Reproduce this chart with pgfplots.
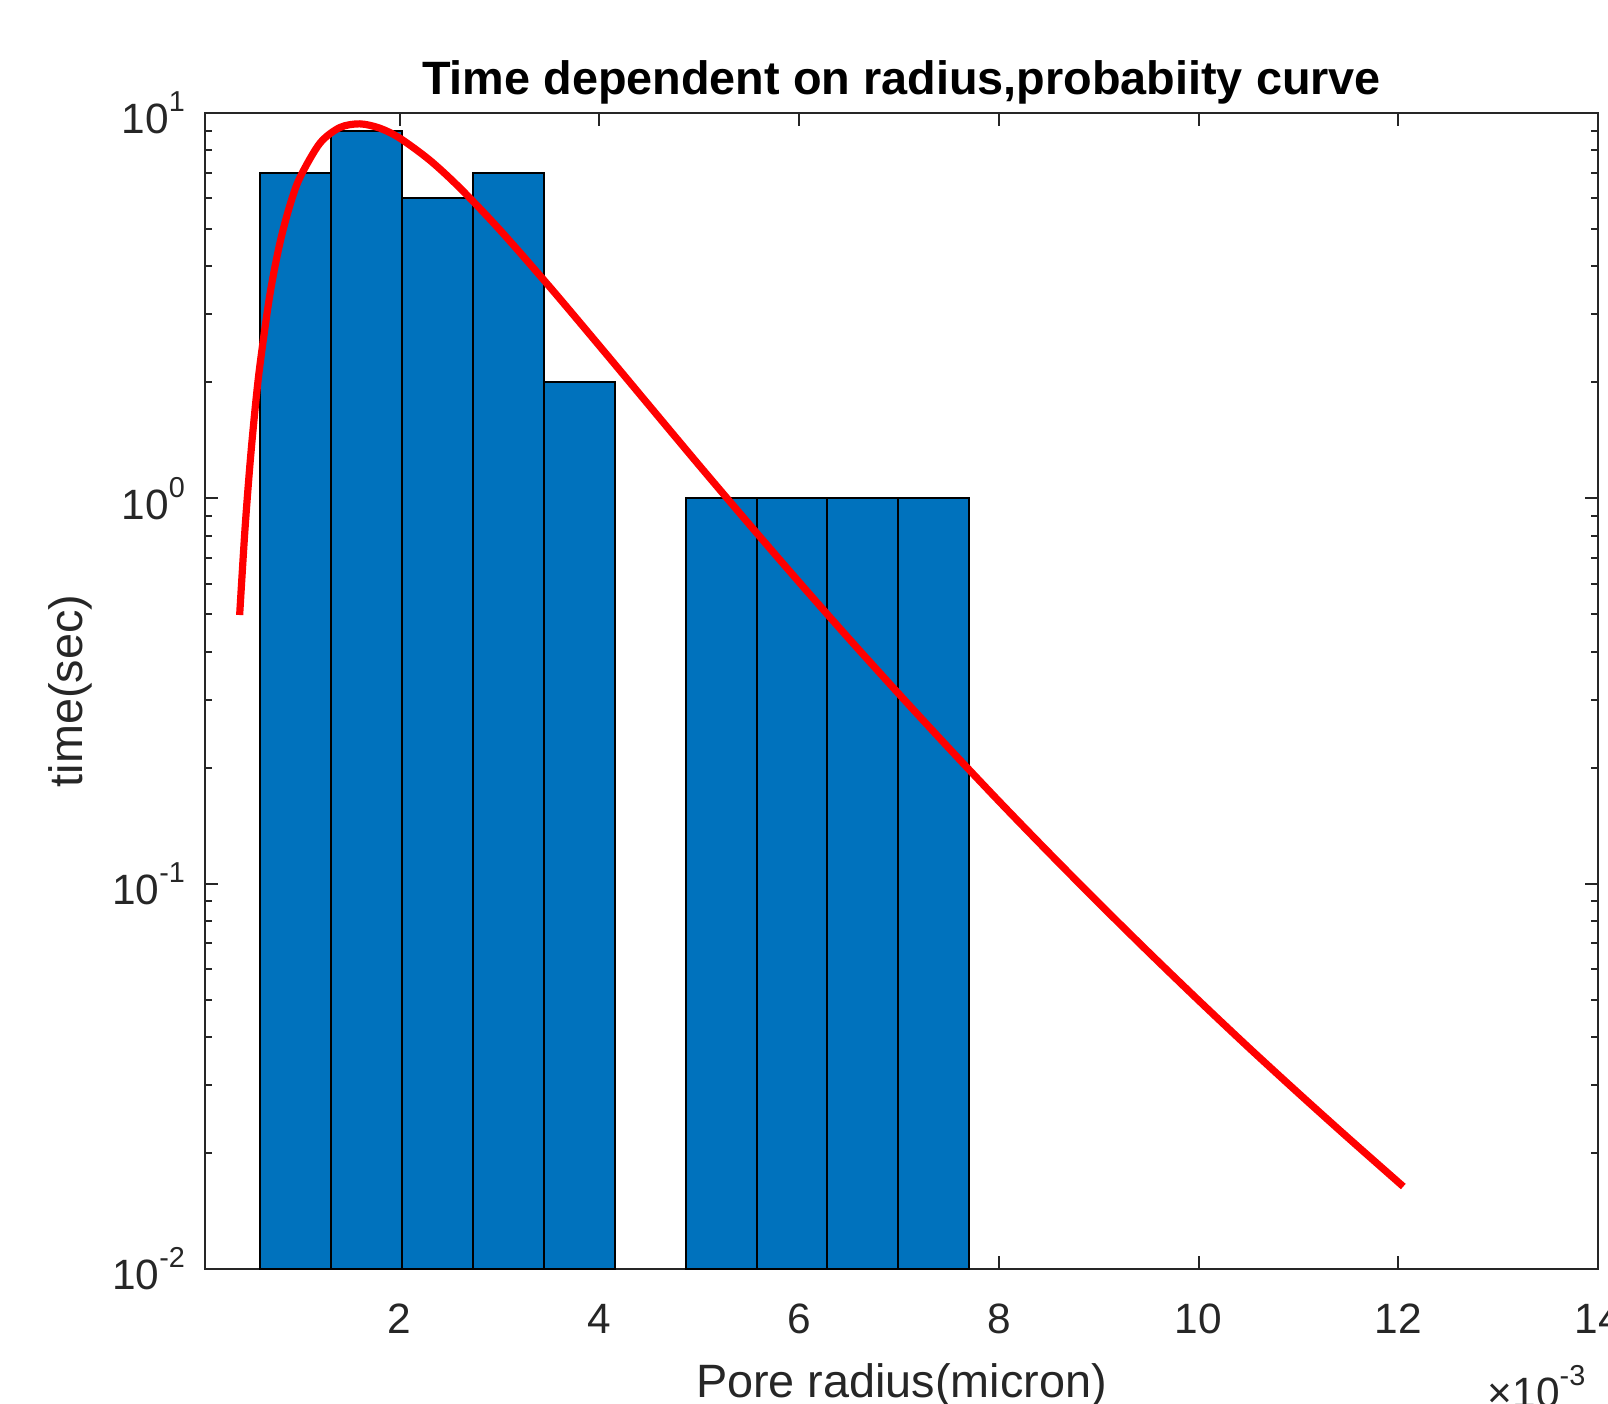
\documentclass[border=0pt]{standalone}
\usepackage{fontspec}
\setmainfont{Liberation Sans}
\usepackage{pgfplots}
\pgfplotsset{compat=1.18}
\definecolor{mblue}{HTML}{0072BD}
\definecolor{axgray}{HTML}{262626}
\newcommand{\sxp}[1]{\raisebox{0.52em}{\fontsize{7.2pt}{7.2pt}\selectfont #1}}
\begin{document}
\begin{tikzpicture}
\begin{axis}[
 name=ax,
 scale only axis,
 width=348.25pt, height=289pt,
 xmin=0.05, xmax=14,
 ymode=log, ymin=0.01, ymax=10,
 log origin y=infty,
 xtick={2,4,6,8,10,12,14},
 xticklabels={2,4,6,8,10,12,14},
 ytick={0.01,0.1,1,10},
 yticklabels={10\sxp{-2},10\sxp{-1},10\sxp{0},10\sxp{1}},
 minor ytick={0.02,0.03,0.04,0.05,0.06,0.07,0.08,0.09,0.2,0.3,0.4,0.5,0.6,0.7,0.8,0.9,2,3,4,5,6,7,8,9},
 tick align=inside,
 major tick length=3.3pt,
 minor tick length=1.8pt,
 axis line style={axgray, line width=0.5pt},
 every tick/.style={axgray, line width=0.5pt},
 tick label style={font=\fontsize{10.6pt}{12pt}\selectfont, text=axgray},
 xticklabel style={anchor=base, yshift=-16pt},
 yticklabel style={xshift=-1.5pt},
 every axis title shift=0pt,
 title={Time dependent on radius,probabiity curve},
 title style={font=\fontsize{11.7pt}{14pt}\selectfont\bfseries, text=black, at={(axis description cs:0.5,1.0164)}, anchor=base},
 xlabel={Pore radius(micron)},
 ylabel={time(sec)},
 label style={font=\fontsize{11.7pt}{14pt}\selectfont, text=axgray},
 xlabel style={at={(axis description cs:0.5,-0.1111)}, anchor=base},
 ylabel style={at={(axis description cs:-0.0969,0.5)}, anchor=center},
]
\addplot[ybar interval, fill=mblue, draw=black, line width=0.5pt] coordinates {
 (0.602,7) (1.312,9) (2.022,6) (2.732,7) (3.442,2) (4.153,2)
};
\addplot[ybar interval, fill=mblue, draw=black, line width=0.5pt] coordinates {
 (4.863,1) (5.573,1) (6.283,1) (6.993,1) (7.703,1)
};
\addplot[red, line width=1.8pt, smooth, no markers] coordinates {
 (0.397,0.498) (0.45,0.828) (0.5,1.223) (0.55,1.690) (0.6,2.215) (0.7,3.381)
 (0.8,4.597) (0.9,5.757) (1.0,6.795) (1.2,8.344) (1.4,9.167) (1.6,9.373)
 (1.8,9.134) (2.0,8.607) (2.3,7.548) (2.6,6.401) (3.0,4.982) (3.5,3.543)
 (4.0,2.487) (4.5,1.739) (5.0,1.217) (5.5,0.8565) (6.0,0.606) (6.5,0.432)
 (7.0,0.3105) (7.5,0.2247) (8.0,0.1638) (8.5,0.1204) (9.0,0.0891) (9.5,0.0664)
 (10,0.0498) (10.5,0.0376) (11,0.0286) (11.5,0.02187) (12.05,0.01637)
};
\end{axis}
\node[anchor=base west, font=\fontsize{10.6pt}{12pt}\selectfont, text=axgray, inner sep=0pt] at ([shift={(-27.75pt,-34.6pt)}]ax.south east) {×10\sxp{-3}};
\pgfresetboundingbox
\path[use as bounding box] ([shift={(-51.25pt,-33.75pt)}]ax.south west) rectangle ([shift={(2.5pt,28.25pt)}]ax.north east);
\end{tikzpicture}
\end{document}
